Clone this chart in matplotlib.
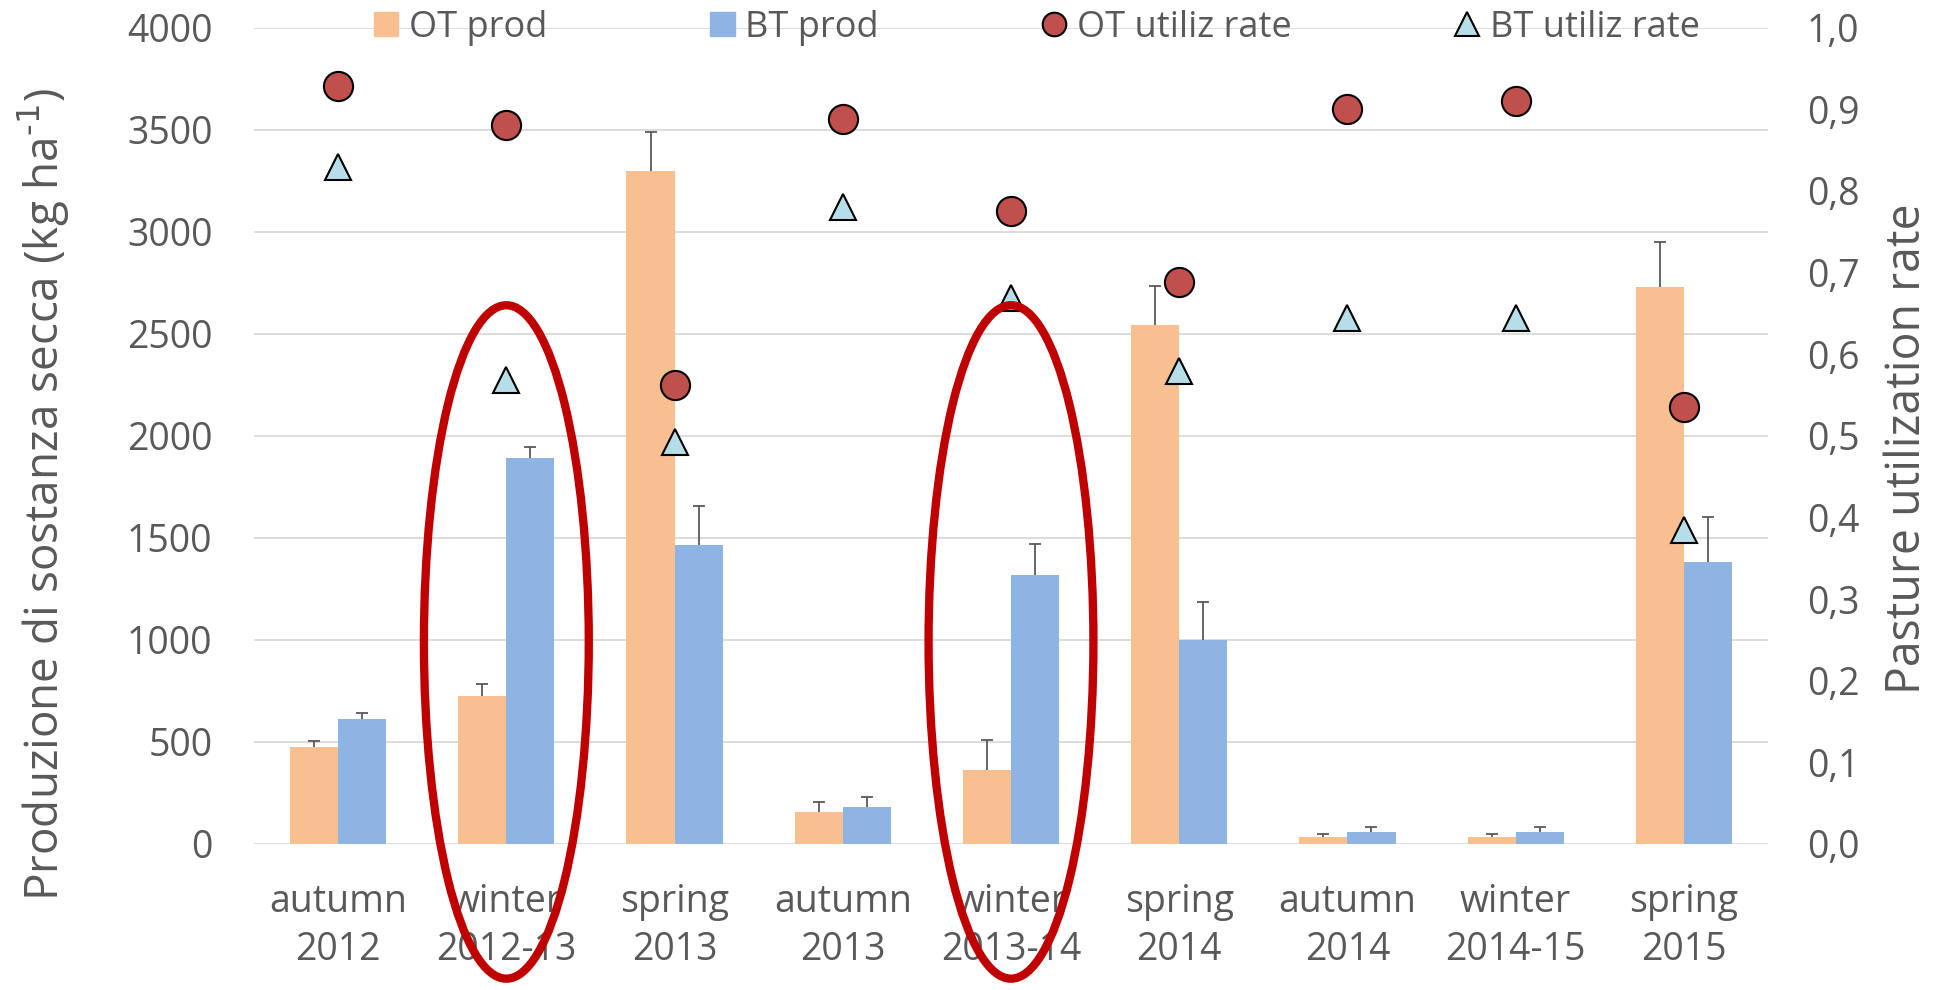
import numpy as np
import matplotlib
matplotlib.use("Agg")
import matplotlib.pyplot as plt
from matplotlib.patches import Ellipse, Patch
from matplotlib.lines import Line2D
from matplotlib.ticker import FuncFormatter

plt.rcParams['font.family'] = ['Open Sans', 'DejaVu Sans']

# seasons
seasons = ["autumn\n2012", "winter\n2012-13", "spring\n2013", "autumn\n2013",
           "winter\n2013-14", "spring\n2014", "autumn\n2014", "winter\n2014-15",
           "spring\n2015"]

# dry matter production (kg/ha) and standard errors
ot_prod = [474, 727, 3297, 158, 363, 2544, 33, 33, 2731]
ot_err = [32, 58, 193, 49, 148, 190, 16, 16, 220]
bt_prod = [611, 1890, 1465, 180, 1318, 999, 60, 60, 1380]
bt_err = [32, 57, 192, 49, 150, 188, 22, 22, 224]

# pasture utilization rate
ot_rate = [0.928, 0.881, 0.562, 0.888, 0.775, 0.688, 0.900, 0.910, 0.535]
bt_rate = [0.829, 0.569, 0.492, 0.780, 0.669, 0.580, 0.644, 0.644, 0.385]

# highlighted winter seasons
highlight = [1, 4]

c_ot = "#F8C090"
c_bt = "#8EB4E3"
c_txt = "#595959"
c_grid = "#D9D9D9"

fig = plt.figure(figsize=(19.54, 9.90), dpi=100)
ax = fig.add_axes([0.130, 0.1475, 0.7748, 0.8245])
ax2 = ax.twinx()

x = np.arange(len(seasons))
w = 0.286


def bars_with_err(xpos, vals, errs, color):
    ax.bar(xpos, vals, w, color=color, zorder=2)
    _, caps, _ = ax.errorbar(xpos, vals, yerr=[np.zeros(len(vals)), errs],
                             fmt='none', ecolor=c_txt, elinewidth=1.3,
                             capsize=4, capthick=1.3, zorder=3)
    # only the upper whisker gets a cap
    for cap in caps:
        if np.allclose(cap.get_ydata(), vals):
            cap.remove()


bars_with_err(x - w / 2, ot_prod, ot_err, c_ot)
bars_with_err(x + w / 2, bt_prod, bt_err, c_bt)

ax.set_xlim(-0.5, len(seasons) - 0.5)
ax.set_ylim(0, 4000)
ax.set_yticks(np.arange(0, 4001, 500))
ax.set_xticks(x)
ax.set_xticklabels(seasons, linespacing=1.35)
ax.grid(axis='y', color=c_grid, lw=1.3, zorder=0)
ax.set_axisbelow(True)

ax2.plot(x, ot_rate, 'o', ms=21, mfc="#C0504D", mec="black", mew=1.5, zorder=4)
ax2.plot(x, bt_rate, '^', ms=19, mfc="#B7DEE8", mec="black", mew=1.5, zorder=4)
ax2.set_ylim(0, 1.0)
ax2.set_yticks(np.arange(0, 1.01, 0.1))
ax2.yaxis.set_major_formatter(FuncFormatter(lambda v, p: f"{v:.1f}".replace(".", ",")))

for a in (ax, ax2):
    for s in a.spines.values():
        s.set_visible(False)
    a.tick_params(length=0, labelsize=27, labelcolor=c_txt)
ax.tick_params(axis='y', pad=30)
ax.tick_params(axis='x', pad=28)
ax2.tick_params(axis='y', pad=28)

fig.text(0.0223, 0.500, "Produzione di sostanza secca (kg ha$^{\\text{-1}}$)",
         rotation=90, ha='center', va='center', rotation_mode='anchor',
         fontsize=33, color=c_txt)
fig.text(0.976, 0.547, "Pasture utilization rate", rotation=90, ha='center',
         va='center', rotation_mode='anchor', fontsize=33.5, color=c_txt)

handles = [Patch(color=c_ot, label="OT prod"),
           Patch(color=c_bt, label="BT prod"),
           Line2D([], [], ls='none', marker='o', ms=17, mfc="#C0504D",
                  mec="black", mew=1.5, label="OT utiliz rate"),
           Line2D([], [], ls='none', marker='^', ms=17, mfc="#B7DEE8",
                  mec="black", mew=1.5, label="BT utiliz rate")]
ax2.legend(handles=handles, loc='center', bbox_to_anchor=(0.517, 1.0),
           ncol=4, frameon=False, fontsize=26, handlelength=0.68,
           handleheight=0.68, handletextpad=0.3, columnspacing=4.5,
           labelcolor=c_txt)

# red rings around the winter seasons
for i in highlight:
    fig.add_artist(Ellipse((x[i], 990), 0.98, 3300, transform=ax.transData,
                           fill=False, ec="#C00000", lw=6, zorder=10))

fig.savefig("out.png", dpi=100)
